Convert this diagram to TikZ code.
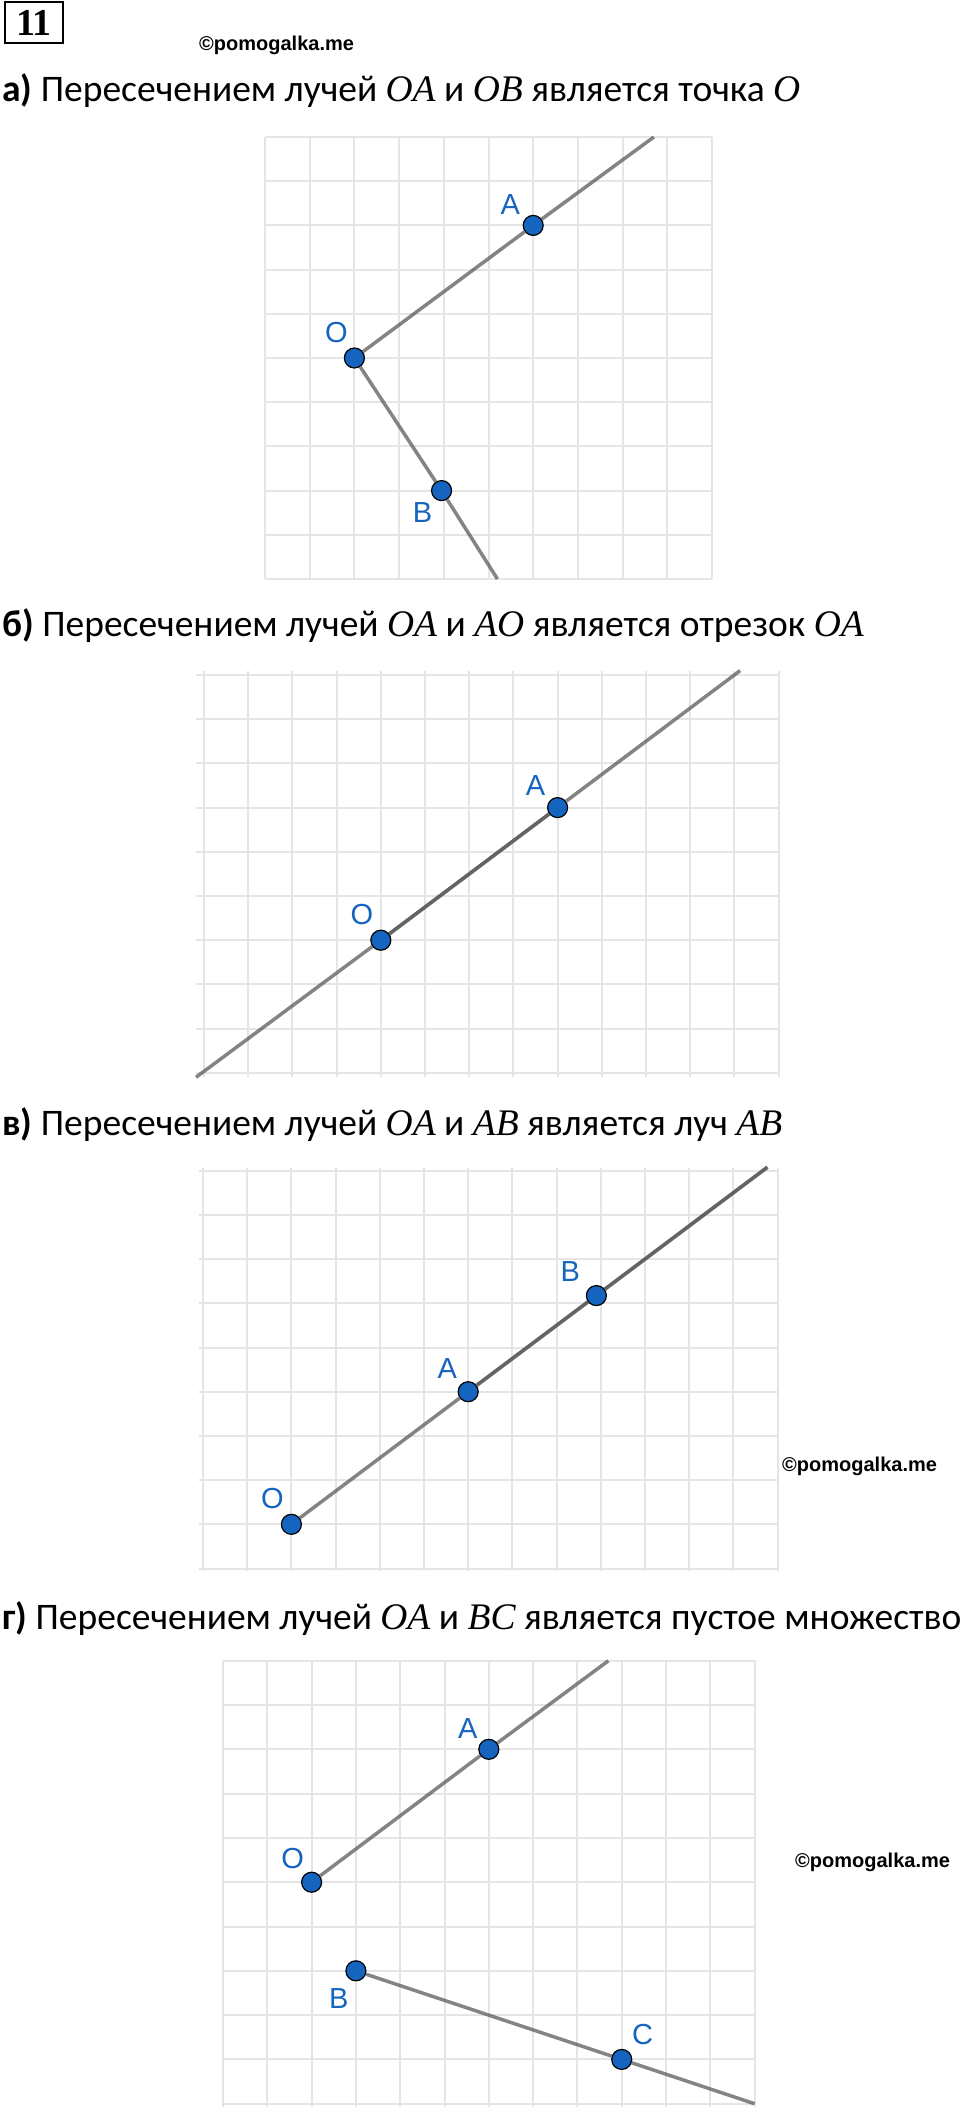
\documentclass[tikz,border=0pt]{standalone}
\usepackage{fontspec}
\setmainfont{Carlito}
\newfontfamily\ggbfont{Liberation Sans}
\newfontfamily\numfont{Liberation Serif}
\newcommand{\pts}[1]{{\numfont\itshape #1}}
\definecolor{ggbblue}{RGB}{21,101,192}
\definecolor{gridgray}{RGB}{229,229,229}

\begin{document}
\begin{tikzpicture}[x=1pt, y=-1pt,
    gridline/.style={gridgray, line width=2pt},
    ray/.style={black!65, opacity=0.74, line width=3.5pt},
    dot/.style={circle, fill=ggbblue, draw=black, line width=1.2pt, minimum size=20pt, inner sep=0pt},
    lbl/.style={text=ggbblue, font=\ggbfont\fontsize{29}{29}\selectfont, inner sep=0pt},
    task/.style={anchor=base west, inner sep=0pt, font=\fontsize{37.5}{44}\selectfont},
    wmark/.style={anchor=base west, inner sep=0pt, font=\ggbfont\bfseries\fontsize{20}{20}\selectfont}]

    \useasboundingbox (0,0) rectangle (960,2107);

    % Number of the exercise and the watermarks
    \node[draw, line width=2.7pt, minimum width=58pt, minimum height=41pt, inner sep=0pt,
          font=\numfont\bfseries\fontsize{38}{38}\selectfont] (num) at (34,22.5) {11};
    \node[wmark] (wm1) at (199,50.7) {©pomogalka.me};
    \node[wmark] (wm2) at (782,1471) {©pomogalka.me};
    \node[wmark] (wm3) at (795,1867) {©pomogalka.me};

    % The four statements
    \node[task] (ta) at (2,101) {\textbf{а)} Пересечением лучей \pts{OA} и \pts{OB} является точка \pts{O}};
    \node[task] (tb) at (2,636.7) {\textbf{б)} Пересечением лучей \pts{OA} и \pts{AO} является отрезок \pts{OA}};
    \node[task] (tc) at (2,1135.7) {\textbf{в)} Пересечением лучей \pts{OA} и \pts{AB} является луч \pts{AB}};
    \node[task] (td) at (2,1629) {\textbf{г)} Пересечением лучей \pts{OA} и \pts{BC} является пустое множество};

    % Part a): rays OA and OB
    \begin{scope}[shift={(265,137)}, x=44.7pt, y=-44.2pt]
        \foreach \i in {0,...,10} \draw[gridline] (\i,0) -- (\i,10);
        \foreach \j in {0,...,10} \draw[gridline] (0,\j) -- (10,\j);
        \coordinate (aEndA) at (8.7,0);
        \coordinate (aEndB) at (5.2,10);
        \node[dot] (aO) at (2,5) {};
        \node[dot] (aA) at (6,2) {};
        \node[dot] (aB) at (3.95,8) {};
        \draw[ray] (aO) -- (aA) -- (aEndA);
        \draw[ray] (aO) -- (aB) -- (aEndB);
        \node[lbl, xshift=-18pt, yshift=25pt] (aOl) at (2,5) {O};
        \node[lbl, xshift=-23pt, yshift=21pt] (aAl) at (6,2) {A};
        \node[lbl, xshift=-19pt, yshift=-22pt] (aBl) at (3.95,8) {B};
    \end{scope}

    % Part b): rays OA and AO
    \begin{scope}[shift={(204,675)}, x=44.2pt, y=-44.2pt]
        \foreach \i in {0,...,13} \draw[gridline] (\i,-0.09) -- (\i,9.1);
        \foreach \j in {0,...,9} \draw[gridline] (-0.18,\j) -- (13,\j);
        \coordinate (bEndL) at (-0.18,9.1);
        \coordinate (bEndR) at (12.13,-0.1);
        \node[dot] (bO) at (4,6) {};
        \node[dot] (bA) at (8,3) {};
        \draw[ray] (bO) -- (bA) -- (bEndR);
        \draw[ray] (bA) -- (bO) -- (bEndL);
        \node[lbl, xshift=-19pt, yshift=26pt] (bOl) at (4,6) {O};
        \node[lbl, xshift=-22pt, yshift=22pt] (bAl) at (8,3) {A};
    \end{scope}

    % Part c): rays OA and AB
    \begin{scope}[shift={(203,1170.7)}, x=44.2pt, y=-44.2pt]
        \foreach \i in {0,...,13} \draw[gridline] (\i,-0.06) -- (\i,9.05);
        \foreach \j in {0,...,9} \draw[gridline] (-0.09,\j) -- (13.02,\j);
        \coordinate (cEnd) at (12.77,-0.08);
        \node[dot] (cO) at (2,8) {};
        \node[dot] (cA) at (6,5) {};
        \node[dot] (cB) at (8.9,2.825) {};
        \draw[ray] (cO) -- (cA) -- (cB) -- (cEnd);
        \draw[ray] (cA) -- (cB) -- (cEnd);
        \node[lbl, xshift=-19pt, yshift=26pt] (cOl) at (2,8) {O};
        \node[lbl, xshift=-21pt, yshift=23pt] (cAl) at (6,5) {A};
        \node[lbl, xshift=-26pt, yshift=24pt] (cBl) at (8.9,2.825) {B};
    \end{scope}

    % Part d): rays OA and BC
    \begin{scope}[shift={(223,1660.7)}, x=44.3pt, y=-44.3pt]
        \foreach \i in {0,...,12} \draw[gridline] (\i,0) -- (\i,10.1);
        \foreach \j in {0,...,10} \draw[gridline] (0,\j) -- (12,\j);
        \coordinate (dEndA) at (8.7,0);
        \coordinate (dEndC) at (12,10);
        \node[dot] (dO) at (2,5) {};
        \node[dot] (dA) at (6,2) {};
        \node[dot] (dB) at (3,7) {};
        \node[dot] (dC) at (9,9) {};
        \draw[ray] (dO) -- (dA) -- (dEndA);
        \draw[ray] (dB) -- (dC) -- (dEndC);
        \node[lbl, xshift=-19pt, yshift=24pt] (dOl) at (2,5) {O};
        \node[lbl, xshift=-21pt, yshift=21pt] (dAl) at (6,2) {A};
        \node[lbl, xshift=-17pt, yshift=-28pt] (dBl) at (3,7) {B};
        \node[lbl, xshift=21pt, yshift=25pt] (dCl) at (9,9) {C};
    \end{scope}
\end{tikzpicture}
\end{document}
